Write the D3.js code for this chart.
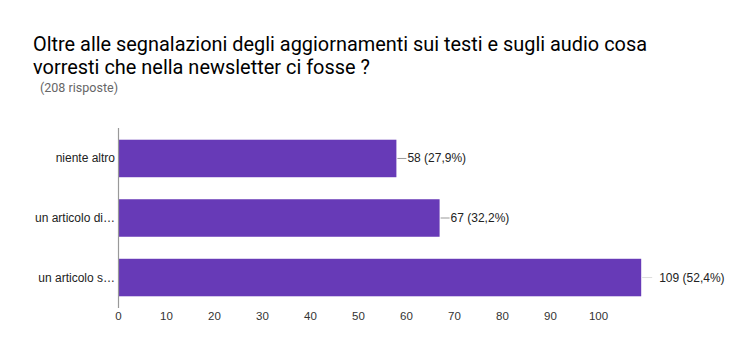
<!DOCTYPE html>
<html><head><meta charset="utf-8">
<script src="https://cdn.jsdelivr.net/npm/d3@7"></script>
<style>body{margin:0;background:#fff}svg{display:block}</style>
</head><body>
<script>
const categories = ["niente altro", "un articolo di…", "un articolo s…"];
const values = [58, 67, 109];
const percents = ["27,9%", "32,2%", "52,4%"];
const ticks = [0,10,20,30,40,50,60,70,80,90,100];
const titleLines = ["Oltre alle segnalazioni degli aggiornamenti sui testi e sugli audio cosa", "vorresti che nella newsletter ci fosse ?"];
const subtitle = "(208 risposte)";

const W=750,H=356;
const svg=d3.select("body").append("svg").attr("width",W).attr("height",H);
const font="Liberation Sans, Arial, sans-serif";
const tfont="Roboto, sans-serif";
svg.append("rect").attr("width",W).attr("height",H).attr("fill","#fff");

svg.selectAll("text.title").data(titleLines).join("text").attr("class","title")
 .attr("x",33).attr("y",(d,i)=>51+i*23).attr("font-family",tfont).attr("font-size",20.5)
 .attr("fill","#000").attr("textLength",(d,i)=>i==0?614:337).attr("lengthAdjust","spacingAndGlyphs").text(d=>d);
svg.append("text").attr("x",40).attr("y",92).attr("font-family",tfont).attr("font-size",12.5)
 .attr("fill","#666").attr("textLength",78).attr("lengthAdjust","spacingAndGlyphs").text(subtitle);

const x=d3.scaleLinear().domain([0,100]).range([118,598]);
const y=d3.scaleBand().domain(categories).range([129,307]).paddingInner(0.37).paddingOuter(0.18);

const g=svg.append("g");
g.selectAll("rect.bar").data(values).join("rect").attr("class","bar")
 .attr("x",x(0)).attr("y",(d,i)=>y(categories[i])).attr("width",d=>x(d)-x(0))
 .attr("height",y.bandwidth()).attr("fill","#673ab7");

// axis line
svg.append("line").attr("x1",x(0)+0.5).attr("x2",x(0)+0.5).attr("y1",128).attr("y2",308)
 .attr("stroke","#999").attr("stroke-width",1.2);

// category labels
g.selectAll("text.cat").data(categories).join("text").attr("class","cat")
 .attr("x",115).attr("y",d=>y(d)+y.bandwidth()/2+4).attr("text-anchor","end")
 .attr("font-family",font).attr("font-size",12).attr("fill","#222").text(d=>d);

// value labels with leader lines
values.forEach((v,i)=>{
  const cy=y(categories[i])+y.bandwidth()/2;
  const inner = i<2;
  const lx = inner ? x(v)+11 : x(v)+12;
  svg.append("line").attr("x1",x(v)+1).attr("x2",lx-1).attr("y1",cy).attr("y2",cy)
   .attr("stroke",inner?"#999":"#ddd").attr("stroke-width",1);
  svg.append("text").attr("x",inner?lx:x(v)+18).attr("y",cy+4).attr("font-family",font).attr("font-size",12)
   .attr("fill","#222").text(`${v} (${percents[i]})`);
});

// x axis
const ax=d3.axisBottom(x).tickValues(ticks).tickSize(0).tickPadding(0);
const axg=svg.append("g").attr("transform","translate(0,312)").call(ax);
axg.select(".domain").remove();
axg.selectAll("text").attr("font-family",font).attr("font-size",11.5).attr("fill","#333").attr("dy","0.71em");
</script>
</body></html>
